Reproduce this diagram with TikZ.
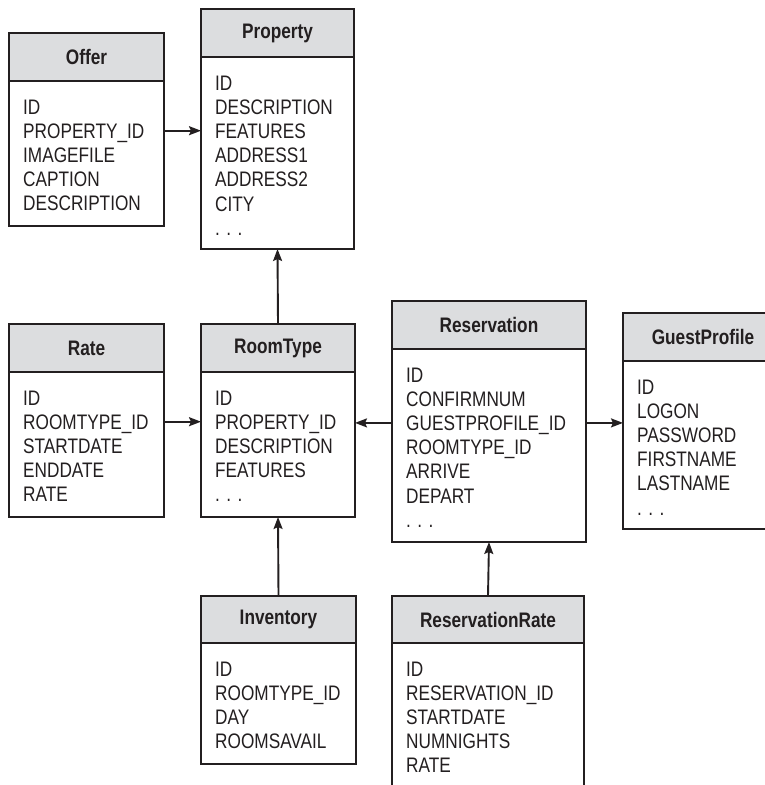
\documentclass[tikz,border=0pt]{standalone}
\usepackage{fontspec}
\setmainfont{Liberation Sans}[FakeStretch=0.82]
\usepackage{tikz}
\usetikzlibrary{arrows.meta,positioning}
\definecolor{ink}{RGB}{35,31,32}
\definecolor{headgray}{RGB}{220,221,223}

\begin{document}
\begin{tikzpicture}[
    x=1pt, y=-1pt,
    font=\fontsize{21}{24}\selectfont, text=ink,
    head/.style={rectangle, draw=ink, line width=1.3pt, fill=headgray, outer sep=0pt,
        anchor=north west, minimum height=48pt, font=\fontsize{21}{24}\selectfont\bfseries},
    body/.style={rectangle, draw=ink, line width=1.3pt, fill=white, outer sep=0pt, below=0pt of #1},
    field/.style={anchor=base west, inner sep=0pt, text height=15pt, text depth=0pt},
    arr/.style={-{Stealth[length=12pt, width=9pt, inset=2pt]}, line width=1.9pt, ink}
]
\clip (0,0) rectangle (765,785);

% tables
\node[head, minimum width=155pt] (offer) at (9,33) {Offer};
\node[body=offer, minimum width=155pt, minimum height=145pt] (offerbody) {};
\node[head, minimum width=153pt] (property) at (201,9) {Property};
\node[body=property, minimum width=153pt, minimum height=192pt] (propbody) {};
\node[head, minimum width=155pt] (rate) at (9,324) {Rate};
\node[body=rate, minimum width=155pt, minimum height=145pt] (ratebody) {};
\node[head, minimum width=154pt] (roomtype) at (201,324) {RoomType};
\node[body=roomtype, minimum width=154pt, minimum height=145pt] (roomtypebody) {};
\node[head, minimum width=194pt] (reservation) at (392,301) {Reservation};
\node[body=reservation, minimum width=194pt, minimum height=193pt] (resbody) {};
\node[head, minimum width=160pt] (guest) at (623,313) {GuestProfile};
\node[body=guest, minimum width=160pt, minimum height=168pt] (guestbody) {};
\node[head, minimum width=155pt, minimum height=47pt] (inventory) at (201,596) {Inventory};
\node[body=inventory, minimum width=155pt, minimum height=121pt] (invbody) {};
\node[head, minimum width=192pt, minimum height=47pt] (resrate) at (392,596) {ReservationRate};
\node[body=resrate, minimum width=192pt, minimum height=200pt] (resratebody) {};

% columns
\foreach \f [count=\i] in {ID, PROPERTY\_ID, IMAGEFILE, CAPTION, DESCRIPTION}
  \node[field] (offer-\i) at ([xshift=14pt, yshift=-33pt-(\i-1)*24.2pt]offerbody.north west) {\f};
\foreach \f [count=\i] in {ID, DESCRIPTION, FEATURES, ADDRESS1, ADDRESS2, CITY, . . .}
  \node[field] (prop-\i) at ([xshift=14pt, yshift=-33pt-(\i-1)*24.2pt]propbody.north west) {\f};
\foreach \f [count=\i] in {ID, ROOMTYPE\_ID, STARTDATE, ENDDATE, RATE}
  \node[field] (rate-\i) at ([xshift=14pt, yshift=-33pt-(\i-1)*24.2pt]ratebody.north west) {\f};
\foreach \f [count=\i] in {ID, PROPERTY\_ID, DESCRIPTION, FEATURES, . . .}
  \node[field] (roomtype-\i) at ([xshift=14pt, yshift=-33pt-(\i-1)*24.2pt]roomtypebody.north west) {\f};
\foreach \f [count=\i] in {ID, CONFIRMNUM, GUESTPROFILE\_ID, ROOMTYPE\_ID, ARRIVE, DEPART, . . .}
  \node[field] (res-\i) at ([xshift=14pt, yshift=-33pt-(\i-1)*24.2pt]resbody.north west) {\f};
\foreach \f [count=\i] in {ID, LOGON, PASSWORD, FIRSTNAME, LASTNAME, . . .}
  \node[field] (guest-\i) at ([xshift=14pt, yshift=-33pt-(\i-1)*24.2pt]guestbody.north west) {\f};
\foreach \f [count=\i] in {ID, ROOMTYPE\_ID, DAY, ROOMSAVAIL}
  \node[field] (inv-\i) at ([xshift=14pt, yshift=-33pt-(\i-1)*24.2pt]invbody.north west) {\f};
\foreach \f [count=\i] in {ID, RESERVATION\_ID, STARTDATE, NUMNIGHTS, RATE}
  \node[field] (resrate-\i) at ([xshift=14pt, yshift=-33pt-(\i-1)*24.2pt]resratebody.north west) {\f};

% relations
\draw[arr] (offerbody.east |- offer-2) -- (propbody.west |- offer-2);
\draw[arr] (roomtype.north) -- (propbody.south);
\draw[arr] (ratebody.east |- rate-2) -- (roomtypebody.west |- rate-2);
\draw[arr] (resbody.west |- res-3) -- (roomtypebody.east |- res-3);
\draw[arr] (resbody.east |- res-3) -- (guestbody.west |- res-3);
\draw[arr] (inventory.north) -- (roomtypebody.south);
\draw[arr] (resrate.north) -- (resbody.south);
\end{tikzpicture}
\end{document}
